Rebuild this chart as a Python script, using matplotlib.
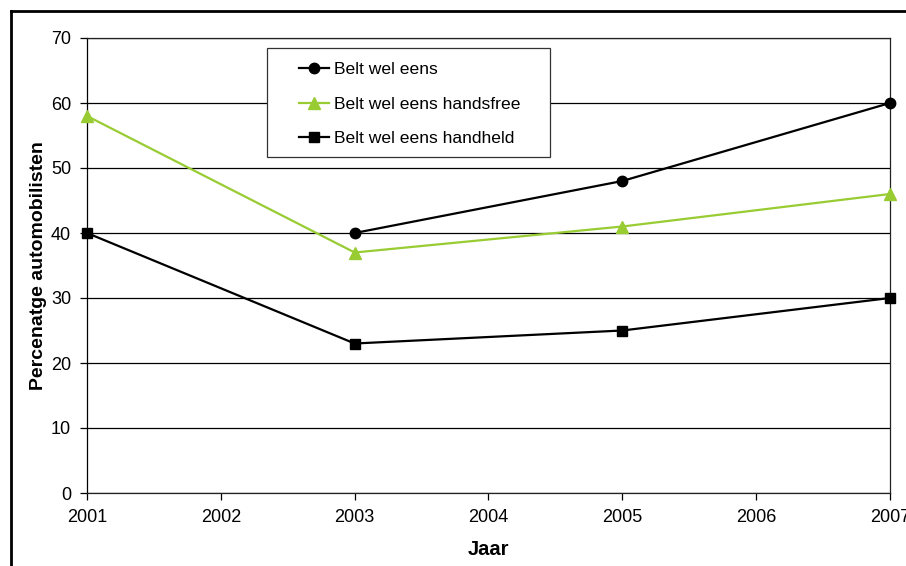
import matplotlib
matplotlib.use("Agg")
import matplotlib.pyplot as plt
from matplotlib.lines import Line2D
from matplotlib.patches import Rectangle

plt.rcParams["font.family"] = ["Liberation Sans", "DejaVu Sans"]

years = [2001, 2002, 2003, 2004, 2005, 2006, 2007]
belt_years = [2003, 2005, 2007]
belt = [40, 48, 60]
hf_years = [2001, 2003, 2005, 2007]
handsfree = [58, 37, 41, 46]
hh_years = [2001, 2003, 2005, 2007]
handheld = [40, 23, 25, 30]

GREEN = "#99cc33"

fig = plt.figure(figsize=(9.06, 5.66), dpi=100)
ax = fig.add_axes([87 / 906, 1 - 493 / 566, 803 / 906, 455 / 566])

ax.plot(belt_years, belt, color="black", lw=1.6, marker="o", ms=7.5,
        label="Belt wel eens", clip_on=False, zorder=5)
ax.plot(hf_years, handsfree, color=GREEN, lw=1.6, marker="^", ms=8.5,
        label="Belt wel eens handsfree", clip_on=False, zorder=5)
ax.plot(hh_years, handheld, color="black", lw=1.6, marker="s", ms=6.5,
        label="Belt wel eens handheld", clip_on=False, zorder=5)

ax.set_xlim(2001, 2007)
ax.set_ylim(0, 70)
ax.set_xticks(years)
ax.set_yticks(range(0, 71, 10))
ax.yaxis.grid(True, color="black", lw=0.9)
ax.set_axisbelow(True)
for s in ax.spines.values():
    s.set_linewidth(0.9)
    s.set_color("#222222")
ax.spines["left"].set_color("black")
ax.tick_params(axis="both", direction="out", length=5, width=0.9,
               labelsize=13, pad=6.5)

ax.set_ylabel("Percenatge automobilisten", fontsize=14, fontweight="bold",
              labelpad=3)
ax.set_xlabel("Jaar", fontsize=14.5, fontweight="bold", labelpad=10)

# legend frame drawn separately so the entries sit centred in a wide box
box = Rectangle(((267 - 87) / 803, (493 - 157) / 455), 283 / 803, 109 / 455,
                transform=ax.transAxes, facecolor="white", edgecolor="#333333",
                lw=0.9, zorder=6)
ax.add_patch(box)
leg = ax.legend(loc="upper left", bbox_to_anchor=((299 - 87) / 803, (493 - 62) / 455),
                fontsize=12.6, frameon=False, borderaxespad=0, borderpad=0,
                labelspacing=1.1, handlelength=1.7, handletextpad=0.3)
leg.set_zorder(7)

# outer frame of the figure (only left and top are visible in the crop)
fx = 10.5 / 906
fy = 1 - 10.5 / 566
fig.add_artist(Line2D([fx, fx], [0, fy], color="black", lw=2,
                      transform=fig.transFigure))
fig.add_artist(Line2D([fx, 1], [fy, fy], color="black", lw=2,
                      transform=fig.transFigure))

fig.savefig("out.png", dpi=100)
